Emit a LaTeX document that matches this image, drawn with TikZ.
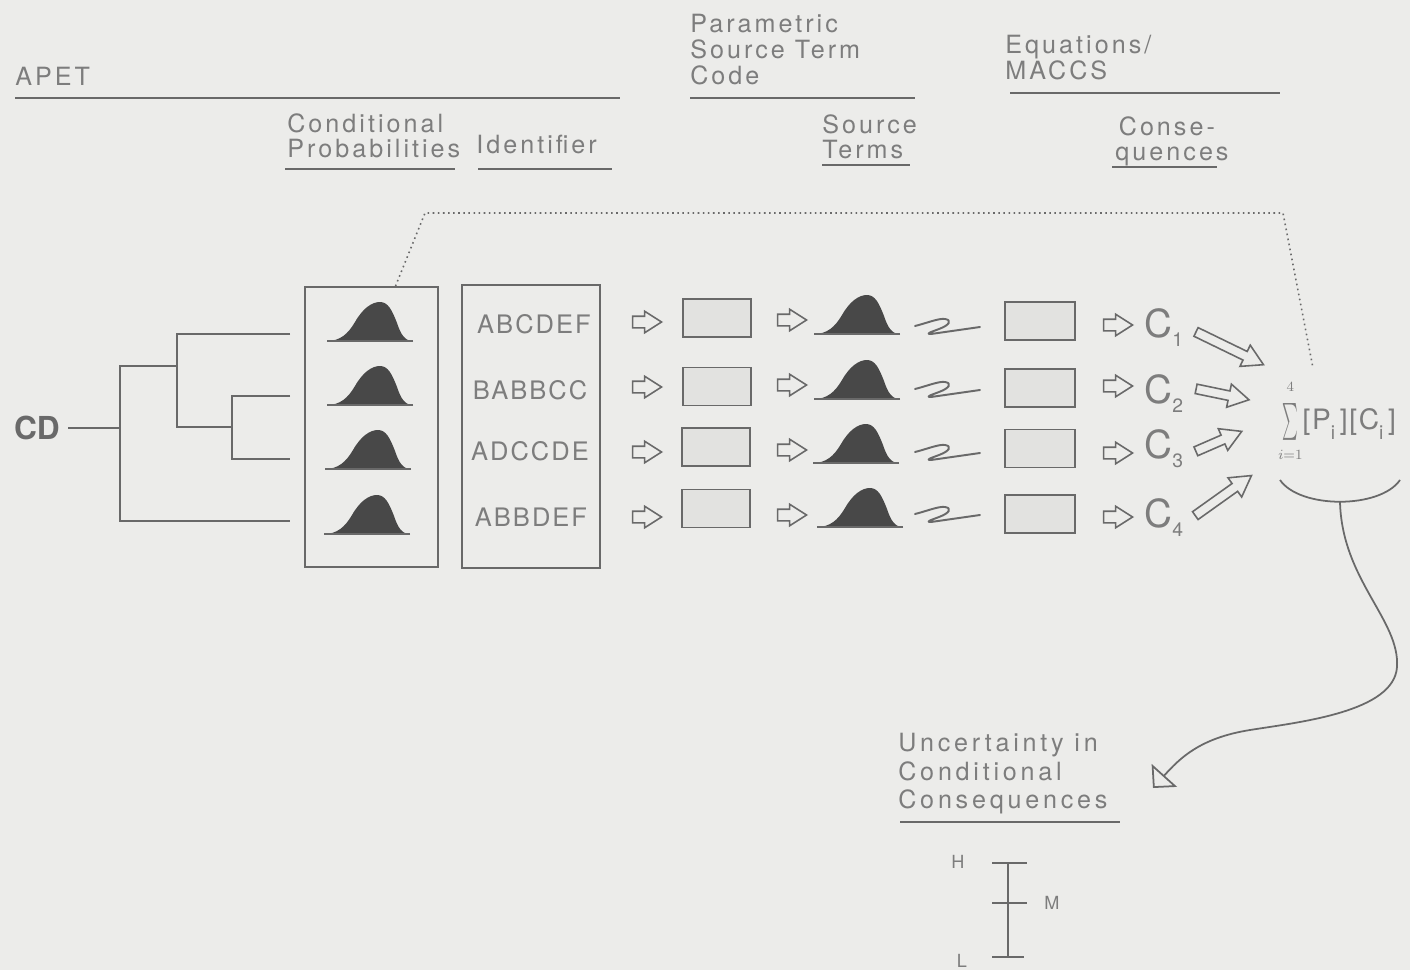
\documentclass[tikz,border=0pt]{standalone}
\usepackage{fontspec}
\setmainfont{TeX Gyre Heros}[LetterSpace=12]
\usepackage{graphicx}
\usepackage{tikz}
\usetikzlibrary{arrows.meta, positioning, shapes.arrows}

\definecolor{paper}{RGB}{236,236,234}
\definecolor{ink}{RGB}{105,105,105}
\definecolor{txtgray}{RGB}{125,125,125}
\definecolor{bellgray}{RGB}{72,72,72}
\definecolor{boxfill}{RGB}{226,226,224}

\newcommand{\hdrfont}{\fontsize{14.3}{14.7}\selectfont}
\newcommand{\lowsub}[1]{\raisebox{-5.5pt}{\fontsize{11}{11}\selectfont #1}}
\newcommand{\tallsum}{\mathop{\vcenter{\hbox{\scalebox{0.85}[2.1]{$\textstyle\sum$}}}}\limits_{\raisebox{-5pt}{$\scriptscriptstyle i=1$}}^{\raisebox{5pt}{$\scriptscriptstyle 4$}}}

\tikzset{
    bell/.pic={
        \fill[bellgray] (-53,0) .. controls (-40,0) and (-32,-7) .. (-25,-19) .. controls (-17,-33) and (-8,-39) .. (0,-39) .. controls (8,-39) and (12,-31) .. (17,-18) .. controls (21,-6) and (25,0) .. (33,0) -- cycle;
        \draw[ink, line width=0.8pt] (-53,0) -- (33,0);
    },
    squiggle/.pic={
        \draw[ink, line width=1.1pt, line cap=round, line join=round] (-32,-1) .. controls (-20,-4) and (-8,-9) .. (-2,-8) .. controls (5,-7) and (3,-2) .. (-8,2) .. controls (-16,5) and (-22,7) .. (-16,7) -- (33,0);
    }
}

\begin{document}
\begin{tikzpicture}[
    x=0.02cm, y=-0.02cm,
    hdr/.style={anchor=north west, align=left, inner sep=0pt, text=txtgray, font=\hdrfont},
    rule/.style={draw=ink, line width=1pt},
    branch/.style={draw=ink, line width=1.6pt},
    colbox/.style={rectangle, draw=ink, line width=1pt},
    fillbox/.style={rectangle, draw=ink, fill=boxfill, line width=1pt, minimum width=1.36cm, minimum height=0.76cm},
    ident/.style={text=txtgray, font=\fontsize{14.5}{14.5}\selectfont\addfontfeature{LetterSpace=8}, inner sep=0pt},
    hollow/.style={single arrow, draw=ink, line width=0.9pt, inner sep=0.1cm, minimum height=0.58cm, single arrow head extend=0.1cm, single arrow tip angle=65},
    fat/.style={single arrow, draw=ink, line width=0.9pt, inner sep=0.08cm, single arrow head extend=0.14cm, single arrow tip angle=60},
    cnode/.style={anchor=base west, inner sep=0pt, text=txtgray, font=\fontsize{22}{22}\selectfont\addfontfeature{LetterSpace=0}},
    lbl/.style={inner sep=0pt, text=txtgray, font=\fontsize{10.3}{10.3}\selectfont},
    dotline/.style={draw=ink, dotted, line width=0.9pt}
]
\fill[paper] (0,0) rectangle (1410,970);
\useasboundingbox (0,0) rectangle (1410,970);

% headings
\node[hdr] (apet) at (15,67) {APET};
\node[hdr] (pstc) at (690,14) {Parametric\\Source Term\\Code};
\node[hdr] (eqns) at (1005,35) {Equations/\\MACCS};
\node[hdr] (condp) at (287,113) {Conditional\\Probabilities};
\node[hdr] (idhdr) at (476,135) {Identifier};
\node[hdr] (sthdr) at (822,114) {Source\\Terms};
\node[hdr] (conshdr) at (1115,116) {\hspace*{2pt}Conse-\\quences};
\draw[rule] (15,98) -- (620,98);
\draw[rule] (690,98) -- (915,98);
\draw[rule] (1010,93) -- (1280,93);
\draw[rule] (285,169) -- (455,169);
\draw[rule] (478,169) -- (612,169);
\draw[rule] (822,165) -- (910,165);
\draw[rule] (1112,167) -- (1217,167);

% event tree
\node[text=ink, inner sep=0pt, font=\fontsize{18}{18}\selectfont\bfseries\addfontfeature{LetterSpace=0}] (cd) at (37,428) {CD};
\draw[branch] (cd.east) ++(0.16cm,0) -- (120,428);
\draw[branch] (290,334) -- (177,334) -- (177,427) -- (232,427);
\draw[branch] (290,396) -- (232,396) -- (232,459) -- (290,459);
\draw[branch] (177,366) -- (120,366) -- (120,521) -- (290,521);

% probabilities and identifiers
\node[colbox, minimum width=2.66cm, minimum height=5.6cm] (probs) at (371.5,427) {};
\pic at (380,341) {bell};
\pic at (380,405) {bell};
\pic at (378,469) {bell};
\pic at (377,534) {bell};
\node[colbox, minimum width=2.76cm, minimum height=5.66cm] (ids) at (531,426.5) {};
\node[ident] (id1) at (534,324) {ABCDEF};
\node[ident] (id2) at (530,390) {BABBCC};
\node[ident] (id3) at (530,451) {ADCCDE};
\node[ident] (id4) at (531,517) {ABBDEF};

% source term code
\node[hollow] (ha1) at (642.5,322) {};
\node[hollow] (ha2) at (642.5,387) {};
\node[hollow] (ha3) at (642.5,452) {};
\node[hollow] (ha4) at (642.5,517) {};
\node[fillbox] (st1) at (717,318) {};
\node[fillbox] (st2) at (717,386.5) {};
\node[fillbox] (st3) at (716,447) {};
\node[fillbox] (st4) at (716,508.5) {};
\node[hollow] (hb1) at (787.5,320) {};
\node[hollow] (hb2) at (787.5,385) {};
\node[hollow] (hb3) at (787.5,450) {};
\node[hollow] (hb4) at (787.5,515) {};
\pic at (867,334) {bell};
\pic at (867,399) {bell};
\pic at (866,463) {bell};
\pic at (870,527) {bell};
\pic at (947,327) {squiggle};
\pic at (947,390) {squiggle};
\pic at (947,453) {squiggle};
\pic at (947,515) {squiggle};

% consequences
\node[fillbox, minimum width=1.4cm] (cb1) at (1040,321) {};
\node[fillbox, minimum width=1.4cm] (cb2) at (1040,388) {};
\node[fillbox, minimum width=1.4cm] (cb3) at (1040,448.5) {};
\node[fillbox, minimum width=1.4cm] (cb4) at (1040,514) {};
\node[hollow] (hc1) at (1113.5,325) {};
\node[hollow] (hc2) at (1113.5,386) {};
\node[hollow] (hc3) at (1113.5,453) {};
\node[hollow] (hc4) at (1113.5,517) {};
\node[cnode] (c1) at (1144,337) {C\lowsub{1}};
\node[cnode] (c2) at (1144,403) {C\lowsub{2}};
\node[cnode] (c3) at (1144,458) {C\lowsub{3}};
\node[cnode] (c4) at (1144,527) {C\lowsub{4}};
\node[fat, minimum height=1.5cm, rotate=-25.9] (fa1) at (1226,346.5) {};
\node[fat, minimum height=1.08cm, rotate=-11.7] (fa2) at (1218.5,393.5) {};
\node[fat, minimum height=1.0cm, rotate=23.5] (fa3) at (1215,443) {};
\node[fat, minimum height=1.38cm, rotate=35.5] (fa4) at (1220,498) {};

% weighted sum
\node[anchor=west, inner sep=0pt, text=txtgray, font=\fontsize{16}{16}\selectfont\addfontfeature{LetterSpace=6}] (sum) at (1278,421) {$\tallsum$[P\lowsub{i}\,][C\lowsub{i}\,]};
\coordinate (dotend) at (1313,368);
\draw[dotline] ([xshift=0.48cm]probs.north) -- (425,213) -- (1283,213) -- (dotend);
\coordinate (arcl) at (1280,480);
\coordinate (arcr) at (1400,480);
\coordinate (arcmid) at (1340,502);
\draw[ink, line width=1pt] (arcl) .. controls (1300,509) and (1380,509) .. (arcr);

% conditional consequences
\node[hdr, font=\fontsize{14.3}{16.2}\selectfont\addfontfeature{LetterSpace=15}] (unc) at (898,733) {Uncertainty in\\Conditional\\Consequences};
\draw[rule] (900,822) -- (1120,822);
\coordinate (unctip) at (1153,788);
\draw[ink, line width=1pt, -{Triangle[open, length=0.34cm, width=0.68cm]}] (arcmid) .. controls (1342,580) and (1400,620) .. (1397,667) .. controls (1394,712) and (1300,722) .. (1250,730) .. controls (1200,738) and (1180,758) .. (unctip);

% H/M/L range
\coordinate (hi) at (1008,863);
\coordinate (mid) at (1008,903);
\coordinate (lo) at (1008,957);
\draw[ink, line width=1.2pt] (hi) -- (lo);
\draw[ink, line width=1.2pt] ([xshift=-0.32cm]hi) -- ([xshift=0.38cm]hi);
\draw[ink, line width=1.2pt] ([xshift=-0.32cm]mid) -- ([xshift=0.38cm]mid);
\draw[ink, line width=1.2pt] ([xshift=-0.32cm]lo) -- ([xshift=0.32cm]lo);
\node[lbl] (hlbl) at (958,862) {H};
\node[lbl] (mlbl) at (1052,903) {M};
\node[lbl] (llbl) at (962,961) {L};
\end{tikzpicture}
\end{document}
